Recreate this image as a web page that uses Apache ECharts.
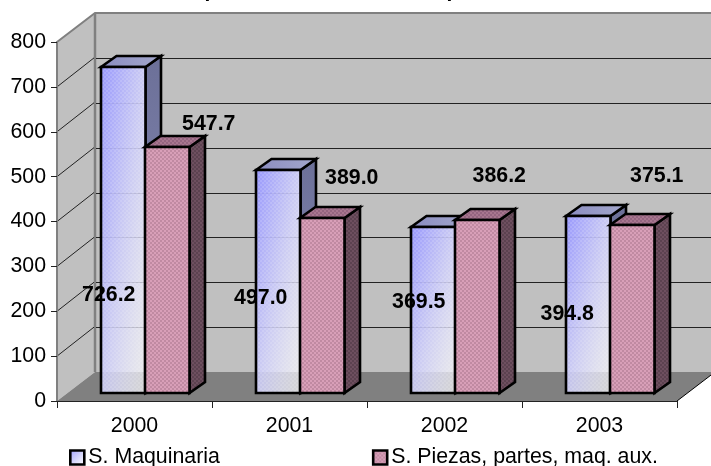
<!DOCTYPE html>
<html><head><meta charset="utf-8">
<style>html,body{margin:0;padding:0;background:#fff}#c{width:711px;height:466px}</style>
<script src="https://cdn.jsdelivr.net/npm/echarts@6/dist/echarts.min.js"></script>
</head><body><div id="c"></div>
<script>
const categories = ['2000','2001','2002','2003'];
const maquinaria = [726.2,497.0,369.5,394.8];
const piezas = [547.7,389.0,386.2,375.1];
const seriesNames = ['S. Maquinaria','S. Piezas, partes, maq. aux.'];
const gridTicks = [100,200,300,400,500,600,700];

// layout constants
const WALL_DX = 38, WALL_DY = -29, BAR_DX = 15.5, BAR_DY = -11, FRONT_DX = 10.5, FRONT_DY = -8, BAR_W = 44.5;
const EDGE = 2.6, FS = 21.33;
const FONT = '"Liberation Sans", Arial, sans-serif';
const blueLabelShift = [[-14,228],[-17,128],[-14,75],[-20.5,98]];
const pinkLabelShift = [[41.5,-23],[29.5,-40],[22,-44],[24.5,-49]];

function checker(a,b){
  const c=document.createElement('canvas');c.width=c.height=4;
  const x=c.getContext('2d');x.fillStyle=a;x.fillRect(0,0,4,4);x.fillStyle=b;
  x.fillRect(0,0,2,2);x.fillRect(2,2,2,2);
  return {image:c,repeat:'repeat'};
}
const pinkFront = checker('#d89fb8','#c08aa2');
const pinkSide = checker('#6e4f5f','#5c4250');
const pinkTop = checker('#a8768f','#946580');
const dither = checker('rgba(255,255,255,0)','rgba(255,255,255,0.14)');
const blueStops = [
  {offset:0,color:'rgba(150,150,255,0.97)'},{offset:0.5,color:'rgba(205,205,250,0.88)'},{offset:1,color:'rgba(255,255,255,0.66)'}];
const blueLegend = new echarts.graphic.LinearGradient(0,0,1,1,blueStops);
const blueSide = new echarts.graphic.LinearGradient(0,0,0,1,[{offset:0,color:'#6c7098'},{offset:1,color:'#8c90bc'}]);
const blueTop = new echarts.graphic.LinearGradient(1,0,0,1,[{offset:0,color:'#a4a8cc'},{offset:1,color:'#8a8cc0'}]);

// diagonal gradient whose iso-lines run from the bar's top-right to its bottom-left corner
function diagonal(x0,y0,w,h){
  const gx=0.5/w, gy=0.5/h, n=gx*gx+gy*gy;
  return new echarts.graphic.LinearGradient(x0,y0,x0+gx/n,y0+gy/n,blueStops,true);
}
function poly(points,fill,lw){
  return {type:'polygon',shape:{points},style:{fill,stroke:lw?'#000':null,lineWidth:lw||0,lineJoin:'miter'}};
}
function barItem(side){ // side 0 = left (maquinaria), 1 = right (piezas)
  return function(params,api){
    const top=api.coord([api.value(0),api.value(1)]), base=api.coord([api.value(0),0]);
    const x0=Math.round(top[0]+FRONT_DX+(side?0:-BAR_W)), x1=x0+BAR_W;
    const y0=Math.round(top[1]+FRONT_DY), y1=Math.round(base[1]+FRONT_DY);
    const face=[[x0,y0],[x1,y0],[x1,y1],[x0,y1]];
    const ch=[
      poly([[x1,y0],[x1+BAR_DX,y0+BAR_DY],[x1+BAR_DX,y1+BAR_DY],[x1,y1]],side?pinkSide:blueSide,EDGE),
      poly([[x0,y0],[x0+BAR_DX,y0+BAR_DY],[x1+BAR_DX,y0+BAR_DY],[x1,y0]],side?pinkTop:blueTop,EDGE)];
    if(side){ ch.push(poly(face,pinkFront,EDGE)); }
    else { ch.push(poly(face,diagonal(x0,y0,BAR_W,y1-y0),0)); ch.push(poly(face,dither,EDGE)); }
    return {type:'group',children:ch};
  };
}
function labelItem(side,shift){
  return function(params,api){
    const i=api.value(0),v=api.value(1),top=api.coord([i,v]);
    const cx=top[0]+FRONT_DX+(side?BAR_W/2:-BAR_W/2), cy=top[1]+FRONT_DY;
    return {type:'text',style:{x:cx+shift[i][0],y:cy+shift[i][1],text:v.toFixed(1),
      font:'bold '+FS+'px '+FONT,fill:'#000',align:'center',verticalAlign:'middle'}};
  };
}
const pairs=a=>a.map((v,i)=>[i,v]);
const option={
  animation:false,
  backgroundColor:'#fff',
  grid:{left:57,right:34,top:42,bottom:65},
  legend:{left:69,top:447,padding:0,itemWidth:14,itemHeight:14,itemGap:152,selectedMode:false,icon:'rect',
    textStyle:{fontFamily:FONT,fontSize:FS,color:'#000',padding:[-1,0,0,-1]},
    data:[
      {name:seriesNames[0],itemStyle:{color:blueLegend,borderColor:'#000',borderWidth:EDGE}},
      {name:seriesNames[1],itemStyle:{color:pinkFront,borderColor:'#000',borderWidth:EDGE}}]},
  xAxis:{type:'category',data:categories,
    axisLine:{show:true,lineStyle:{color:'#222',width:1}},
    axisTick:{show:true,length:7,lineStyle:{color:'#222'}},
    axisLabel:{fontFamily:FONT,fontSize:FS,color:'#000',margin:15},z:5},
  yAxis:{type:'value',min:0,max:800,interval:100,
    axisLine:{show:true,lineStyle:{color:'#808080',width:2}},
    axisTick:{show:true,length:6,lineStyle:{color:'#222'}},
    axisLabel:{fontFamily:FONT,fontSize:FS,color:'#000',margin:11,padding:[2,0,0,0]},
    splitLine:{show:false},z:5},
  graphic:[
    {type:'text',left:204.5,top:-19,silent:true,style:{text:'p',font:'bold 21px '+FONT,fill:'#000'}},
    {type:'text',left:446.5,top:-19,silent:true,style:{text:'p',font:'bold 21px '+FONT,fill:'#000'}}],
  series:[
    {type:'custom',name:'walls',silent:true,z:1,data:[[0,0]],encode:{x:0,y:1},
      renderItem(params,api){
        const g=params.coordSys,L=g.x,R=g.x+g.width,T=g.y,B=g.y+g.height;
        const bx=L+WALL_DX,tb=T+WALL_DY,bb=B+WALL_DY,ex=R+WALL_DX;
        return {type:'group',children:[
          poly([[bx,tb],[ex,tb],[ex,bb],[bx,bb]],'#c0c0c0'),
          poly([[L,T],[bx,tb],[bx,bb],[L,B]],'#c0c0c0'),
          poly([[L,B],[R,B],[ex,bb],[bx,bb]],'#808080'),
          {type:'polyline',shape:{points:[[L,T],[bx,tb],[ex,tb]]},style:{fill:null,stroke:'#808080',lineWidth:2}},
          {type:'line',shape:{x1:bx,y1:tb,x2:bx,y2:bb},style:{stroke:'#808080',lineWidth:2.5}},
          {type:'line',shape:{x1:R,y1:B,x2:ex,y2:bb},style:{stroke:'#000',lineWidth:1}}]};
      }},
    {type:'custom',name:'gridlines',silent:true,z:2,data:gridTicks.map(t=>[0,t]),encode:{x:0,y:1},
      renderItem(params,api){
        const g=params.coordSys,y=api.coord([0,api.value(1)])[1];
        const yb=Math.round(y+WALL_DY)+0.5;
        return {type:'group',children:[
          {type:'line',shape:{x1:g.x+WALL_DX+1,y1:yb,x2:g.x+g.width+WALL_DX,y2:yb},style:{stroke:'#222',lineWidth:1}},
          {type:'line',shape:{x1:g.x,y1:y,x2:g.x+WALL_DX-1,y2:y+WALL_DY},style:{stroke:'#222',lineWidth:1}}]};
      }},
    {type:'custom',name:seriesNames[0],silent:true,z:3,data:pairs(maquinaria),encode:{x:0,y:1},renderItem:barItem(0)},
    {type:'custom',name:seriesNames[1],silent:true,z:3,data:pairs(piezas),encode:{x:0,y:1},renderItem:barItem(1)},
    {type:'custom',name:'lab1',silent:true,z:6,data:pairs(maquinaria),encode:{x:0,y:1},renderItem:labelItem(0,blueLabelShift)},
    {type:'custom',name:'lab2',silent:true,z:6,data:pairs(piezas),encode:{x:0,y:1},renderItem:labelItem(1,pinkLabelShift)}
  ]
};
const chart=echarts.init(document.getElementById('c'),null,{renderer:'canvas'});
chart.setOption(option);
</script></body></html>
